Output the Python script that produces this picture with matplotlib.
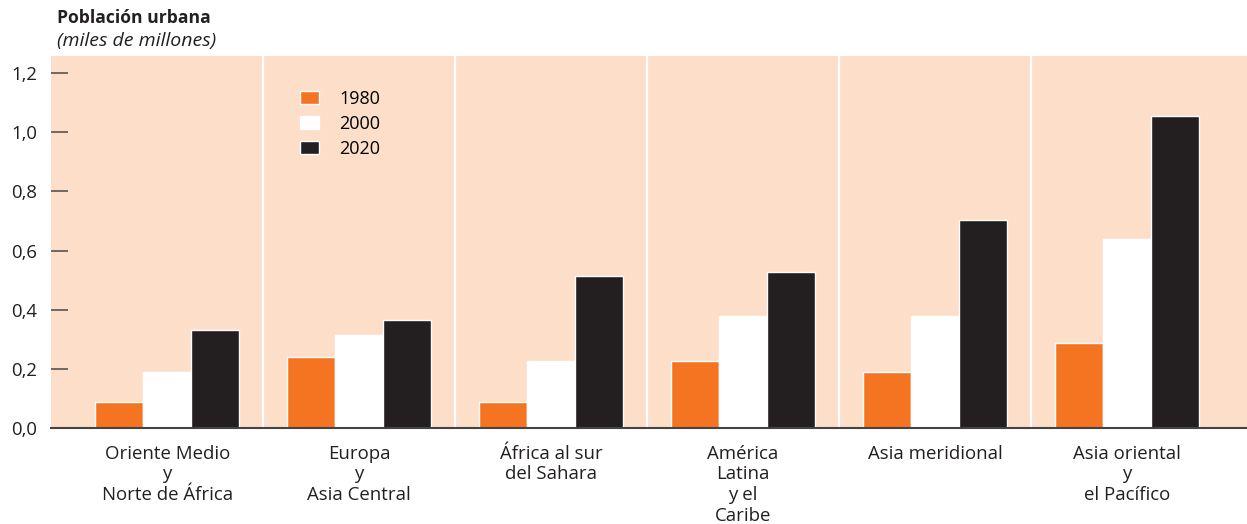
import matplotlib.pyplot as plt
import numpy as np

plt.rcParams['font.family'] = ['Open Sans', 'DejaVu Sans']

# Urban population by region (billions)
regions = ["Oriente Medio\ny\nNorte de África",
           "Europa\ny\nAsia Central",
           "África al sur\ndel Sahara",
           "América\nLatina\ny el\nCaribe",
           "Asia meridional",
           "Asia oriental\ny\nel Pacífico"]
years = ["1980", "2000", "2020"]
pop_1980 = [0.088, 0.240, 0.088, 0.227, 0.190, 0.287]
pop_2000 = [0.190, 0.315, 0.227, 0.379, 0.379, 0.639]
pop_2020 = [0.330, 0.365, 0.514, 0.527, 0.703, 1.056]
yticks = [0.0, 0.2, 0.4, 0.6, 0.8, 1.0, 1.2]

bg = "#FDDEC8"
colors = ["#F47421", "#FFFFFF", "#231F20"]

fig = plt.figure(figsize=(12.47, 5.24), dpi=100)
ax = fig.add_axes([51 / 1247, 96 / 524, 1 - 51 / 1247, 372 / 524])
ax.set_facecolor(bg)

x = np.arange(len(regions))
w = 0.25
for i, (vals, yr) in enumerate(zip([pop_1980, pop_2000, pop_2020], years)):
    ax.bar(x + (i - 1) * w, vals, width=w, color=colors[i], edgecolor="white",
           linewidth=1.0, label=yr, zorder=3)

# white separators between regions
for b in x[:-1] + 0.5:
    ax.axvline(b, color="white", lw=1.6, zorder=1)

ax.set_xlim(-0.605, 5.625)
ax.set_ylim(0, 1.2575)
ax.set_yticks(yticks)
ax.set_yticklabels([f"{t:.1f}".replace(".", ",") for t in yticks], fontsize=13.3, color="#231F20")
ax.tick_params(axis="y", direction="in", length=12, width=1.2, color="#555555", pad=10)
ax.set_xticks(x)
ax.set_xticklabels(regions, fontsize=13.4, color="#231F20", linespacing=1.2)
ax.tick_params(axis="x", length=0, pad=12)

for s in ["top", "right", "left"]:
    ax.spines[s].set_visible(False)
ax.spines["bottom"].set_color("#444444")
ax.spines["bottom"].set_linewidth(1.5)
ax.spines["bottom"].set_zorder(4)

leg = ax.legend(loc="upper left", bbox_to_anchor=(0.195, 0.952), frameon=False,
                fontsize=13, handlelength=1.05, handleheight=0.75,
                handletextpad=1.1, labelspacing=0.38)

fig.text(57 / 1247, 1 - 18 / 524, "Población urbana", fontsize=12.6, fontweight="bold",
         color="#231F20", va="center")
fig.text(57 / 1247, 1 - 41 / 524, "(miles de millones)", fontsize=14, style="italic",
         color="#231F20", va="center")

fig.savefig("out.png", dpi=100, facecolor="white")
